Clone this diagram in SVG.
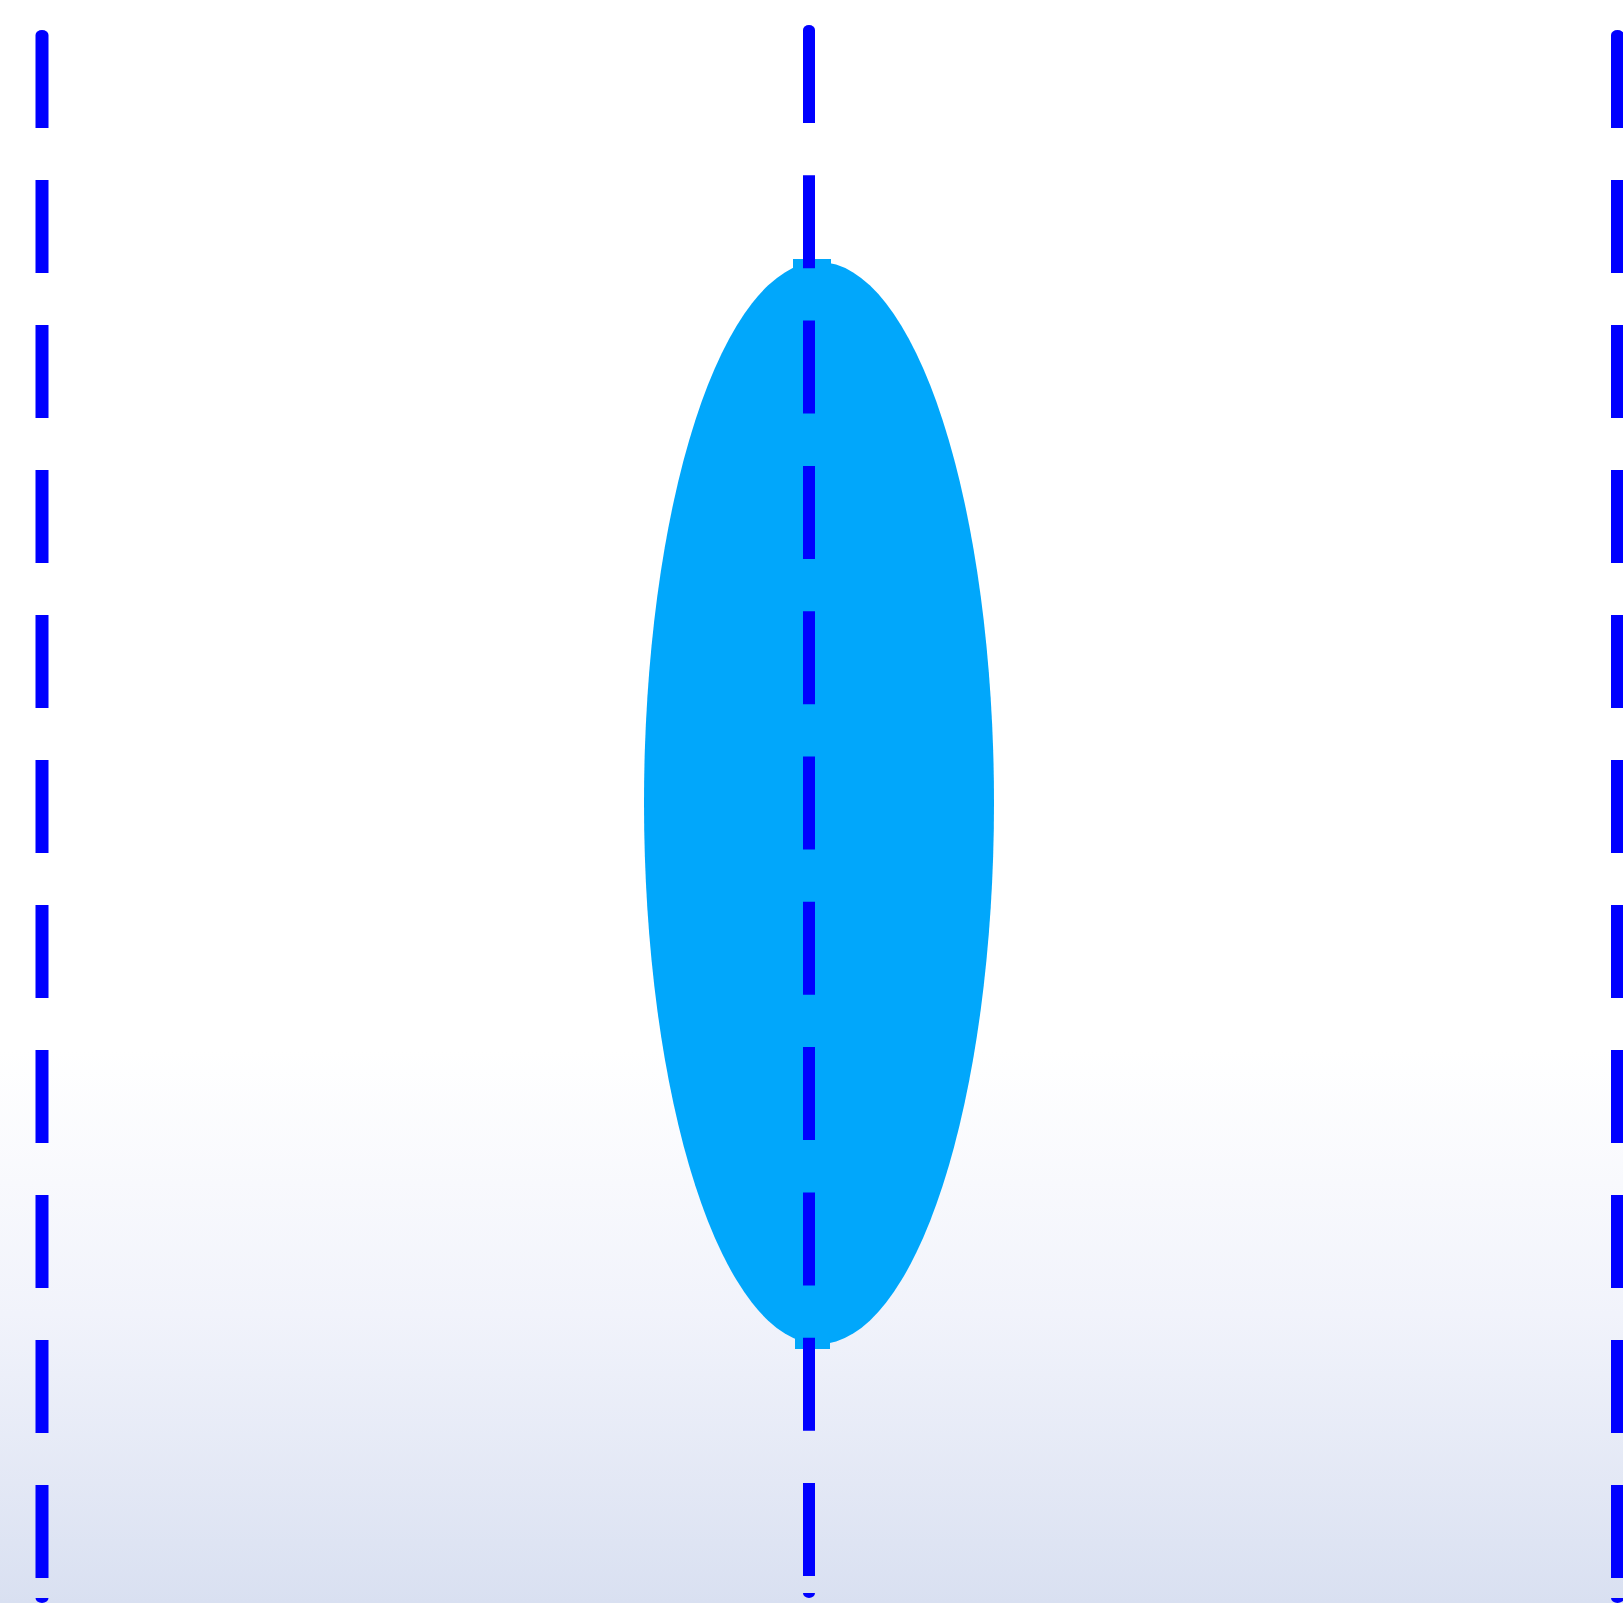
<svg xmlns="http://www.w3.org/2000/svg" width="1623" height="1603" viewBox="0 0 1623 1603">
  <defs>
    <linearGradient id="bg" x1="0" y1="0" x2="0" y2="1603" gradientUnits="userSpaceOnUse">
      <stop offset="0" stop-color="#FFFFFF"/>
      <stop offset="0.655" stop-color="#FFFFFF"/>
      <stop offset="0.82" stop-color="#F1F3FB"/>
      <stop offset="1" stop-color="#D9E0F1"/>
    </linearGradient>
  </defs>
  <style>
    .dash { stroke: #0000FF; fill: none; stroke-linecap: butt; }
    .cap { fill: #0000FF; }
    .lens { fill: #01A7FB; }
  </style>
  <rect id="background" x="0" y="0" width="1623" height="1603" fill="url(#bg)"/>
  <g id="lens-node">
    <ellipse class="lens" cx="819" cy="803" rx="175" ry="541"/>
    <rect class="lens" x="793" y="259" width="38" height="10"/>
    <rect class="lens" x="795" y="1338" width="35" height="11"/>
  </g>
  <g id="connectors">
    <g id="axis-left">
      <line class="dash" x1="42" y1="35" x2="42" y2="1603" stroke-width="13" stroke-dasharray="93 52"/>
      <path class="cap" d="M35.5,35 A6.5,5 0 0 1 48.5,35 Z"/>
      <path class="cap" d="M35.5,1598 A6.5,5 0 0 0 48.5,1598 Z"/>
    </g>
    <g id="axis-center">
      <line class="dash" x1="809" y1="30" x2="809" y2="1593" stroke-width="12" stroke-dasharray="93 52.3"/>
      <path class="cap" d="M803,30 A6,5 0 0 1 815,30 Z"/>
      <path class="cap" d="M803,1593 A6,5 0 0 0 815,1593 Z"/>
    </g>
    <g id="axis-right">
      <line class="dash" x1="1617.5" y1="35" x2="1617.5" y2="1603" stroke-width="13" stroke-dasharray="93 52"/>
      <path class="cap" d="M1611,35 A6.5,5 0 0 1 1624,35 Z"/>
      <path class="cap" d="M1611,1598 A6.5,5 0 0 0 1624,1598 Z"/>
    </g>
  </g>
</svg>
